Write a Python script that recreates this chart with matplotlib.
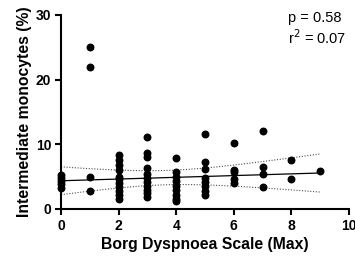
import numpy as np
import matplotlib.pyplot as plt

plt.rcParams['font.family'] = ['Liberation Sans', 'DejaVu Sans']

# Borg score -> intermediate monocyte values (%)
borg_0 = [3.2, 3.8, 4.3, 4.8, 5.3]
borg_1 = [25.0, 22.0, 5.0, 2.8]
borg_2 = [8.3, 7.6, 6.8, 6.0, 5.0, 4.6, 4.0, 3.4, 2.8, 2.2, 1.5]
borg_3 = [11.1, 8.6, 8.0, 6.3, 5.4, 4.8, 4.2, 3.6, 3.0, 2.4, 1.9]
borg_4 = [7.9, 5.7, 5.0, 4.3, 3.6, 2.9, 2.2, 1.5, 1.2]
borg_5 = [11.6, 7.3, 6.2, 4.8, 4.2, 3.5, 2.8, 2.2]
borg_6 = [10.2, 6.1, 5.7, 4.6, 4.0]
borg_7 = [12.0, 6.5, 5.4, 3.4]
borg_8 = [7.6, 4.6]
borg_9 = [5.8]

groups = [borg_0, borg_1, borg_2, borg_3, borg_4, borg_5, borg_6, borg_7, borg_8, borg_9]
x = np.concatenate([[i] * len(g) for i, g in enumerate(groups)]).astype(float)
y = np.concatenate(groups)

# robust (Theil-Sen) line, band from the residual spread of all points
i, j = np.triu_indices(len(x), 1)
dx = x[j] - x[i]
ok = dx != 0
slope = np.median((y[j] - y[i])[ok] / dx[ok])
icpt = np.median(y - slope * x)
n = len(x)
resid = y - (slope * x + icpt)
s = np.sqrt(np.sum(resid ** 2) / (n - 2))
xs = np.linspace(0, 9, 100)
fit = slope * xs + icpt
se = s * np.sqrt(1 / n + (xs - x.mean()) ** 2 / np.sum((x - x.mean()) ** 2))
t = 2.0
upper = fit + t * se
lower = fit - t * se
print(slope, icpt)

fig = plt.figure(figsize=(3.55, 2.63), dpi=100)
ax = fig.add_axes([61 / 355, 1 - 209 / 263, 288 / 355, 194 / 263])

ax.scatter(x, y, s=22, color='black', zorder=3, clip_on=False)
ax.plot(xs, fit, color='black', lw=0.9)
ax.plot(xs, upper, color='black', lw=0.8, ls=(0, (1, 1.5)), alpha=0.7)
ax.plot(xs, lower, color='black', lw=0.8, ls=(0, (1, 1.5)), alpha=0.7)

ax.set_xlim(0, 10)
ax.set_ylim(0, 30)
ax.set_xticks([0, 2, 4, 6, 8, 10])
ax.set_yticks([0, 10, 20, 30])
ax.spines['top'].set_visible(False)
ax.spines['right'].set_visible(False)
ax.spines['left'].set_linewidth(1.5)
ax.spines['bottom'].set_linewidth(1.5)
ax.tick_params(width=1.5, length=4, labelsize=10, pad=3)
for lab in ax.get_xticklabels() + ax.get_yticklabels():
    lab.set_fontweight('bold')

ax.set_xlabel('Borg Dyspnoea Scale (Max)', fontsize=11.3, fontweight='bold', labelpad=3)
ax.set_ylabel('Intermediate monocytes (%)', fontsize=11.3, fontweight='bold', labelpad=3)

ax.text(0.788, 0.985, 'p = 0.58', transform=ax.transAxes, fontsize=10.5, va='center')
ax.text(0.788, 0.885, 'r$^2$ = 0.07', transform=ax.transAxes, fontsize=10.5, va='center')

fig.savefig('out.png', dpi=100)
